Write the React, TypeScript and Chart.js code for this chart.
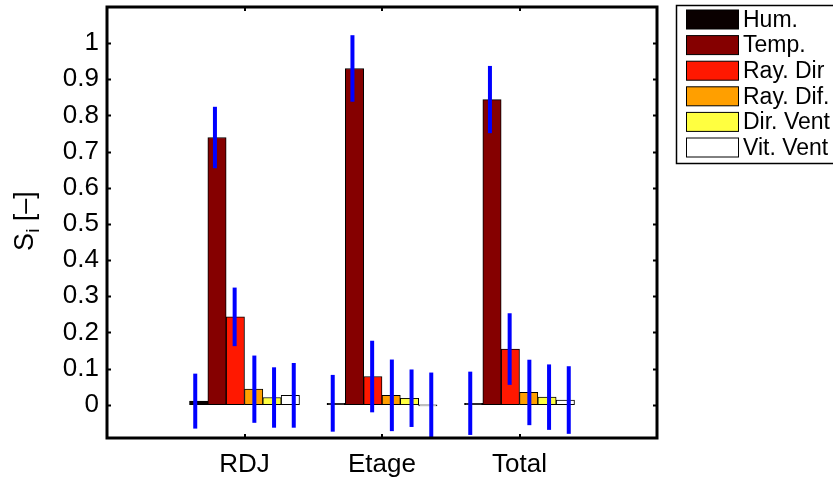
import React, { useEffect, useRef } from "react";
import { Chart, registerables } from "chart.js";

Chart.register(...registerables);

// Groups along the x axis
const categories = ["RDJ", "Etage", "Total"];

// Input factors (one bar series each)
const seriesNames = ["Hum.", "Temp.", "Ray. Dir", "Ray. Dif.", "Dir. Vent", "Vit. Vent"];
const seriesColors = ["#0a0000", "#850000", "#ff1800", "#ff9f00", "#ffff40", "#ffffff"];

// First-order sensitivity indices S_i, per group (RDJ, Etage, Total)
const hum = [0.01, 0.004, 0.004];
const temp = [0.739, 0.93, 0.844];
const rayDir = [0.243, 0.078, 0.154];
const rayDif = [0.043, 0.026, 0.034];
const dirVent = [0.02, 0.018, 0.021];
const vitVent = [0.026, -0.003, 0.013];

// Half-width of the confidence interval of each index
const humErr = [0.076, 0.0785, 0.0875];
const tempErr = [0.085, 0.092, 0.093];
const rayDirErr = [0.081, 0.099, 0.099];
const rayDifErr = [0.093, 0.099, 0.0905];
const dirVentErr = [0.0835, 0.0795, 0.0905];
const vitVentErr = [0.0895, 0.092, 0.0935];

// Y axis
const yMin = -0.092;
const yMax = 1.1;
const yTicks = [0, 0.1, 0.2, 0.3, 0.4, 0.5, 0.6, 0.7, 0.8, 0.9, 1];

const seriesValues = [hum, temp, rayDir, rayDif, dirVent, vitVent];
const seriesErrors = [humErr, tempErr, rayDirErr, rayDifErr, dirVentErr, vitVentErr];

const FONT = "'Liberation Sans', Arial, Helvetica, sans-serif";
const ERR_SPACING = 0.1433; // spacing of the error bars within a group, in x units
const GROUP_WIDTH = 0.8; // share of one x unit taken by a group of bars

const framePlugin = {
  id: "matlabFrame",
  afterDatasetsDraw(chart: any) {
    const { ctx, chartArea } = chart;
    const xs = chart.scales.x;
    const ys = chart.scales.y;
    // error bars
    ctx.save();
    ctx.beginPath();
    ctx.rect(chartArea.left, chartArea.top, chartArea.right - chartArea.left, chartArea.bottom - chartArea.top);
    ctx.clip();
    ctx.strokeStyle = "#0000ff";
    ctx.lineWidth = 4;
    ctx.lineCap = "butt";
    seriesValues.forEach((vals, j) => {
      vals.forEach((v, i) => {
        const e = seriesErrors[j][i];
        const x = xs.getPixelForValue(i + 1 + (j - 2.5) * ERR_SPACING);
        ctx.beginPath();
        ctx.moveTo(x, ys.getPixelForValue(v + e));
        ctx.lineTo(x, ys.getPixelForValue(v - e));
        ctx.stroke();
      });
    });
    ctx.restore();
  },
  afterDraw(chart: any) {
    const { ctx, chartArea } = chart;
    const { left, right, top, bottom } = chartArea;
    const xs = chart.scales.x;
    const ys = chart.scales.y;
    ctx.save();
    ctx.strokeStyle = "#000";
    // inward tick marks on all four sides
    ctx.lineWidth = 2;
    const tl = 4;
    yTicks.forEach((t) => {
      const y = Math.round(ys.getPixelForValue(t)) + 0.5;
      ctx.beginPath();
      ctx.moveTo(left, y);
      ctx.lineTo(left + tl, y);
      ctx.moveTo(right, y);
      ctx.lineTo(right - tl, y);
      ctx.stroke();
    });
    categories.forEach((_, i) => {
      const x = Math.round(xs.getPixelForValue(i + 1));
      ctx.beginPath();
      ctx.moveTo(x, bottom);
      ctx.lineTo(x, bottom - tl);
      ctx.moveTo(x, top);
      ctx.lineTo(x, top + tl);
      ctx.stroke();
    });
    // axes box
    ctx.lineWidth = 3;
    ctx.strokeRect(left, top, right - left, bottom - top);

    // y axis title: S_i [–]
    ctx.save();
    ctx.translate(33, 221);
    ctx.rotate(-Math.PI / 2);
    ctx.fillStyle = "#000";
    ctx.textBaseline = "alphabetic";
    ctx.textAlign = "left";
    const big = `27px ${FONT}`;
    const small = `19px ${FONT}`;
    ctx.font = big;
    const wS = ctx.measureText("S").width;
    const wB = ctx.measureText(" [\u2013]").width;
    ctx.font = small;
    const wI = ctx.measureText("i").width;
    let x0 = -(wS + wI + wB) / 2;
    ctx.font = big;
    ctx.fillText("S", x0, 0);
    x0 += wS;
    ctx.font = small;
    ctx.fillText("i", x0, 6);
    x0 += wI;
    ctx.font = big;
    ctx.fillText(" [\u2013]", x0, 0);
    ctx.restore();

    // legend
    const lx = 676.5;
    const ly = 5.5;
    const rowH = 25.6;
    ctx.fillStyle = "#fff";
    ctx.fillRect(lx, ly, 220, 158);
    ctx.lineWidth = 1.5;
    ctx.strokeStyle = "#000";
    ctx.strokeRect(lx, ly, 220, 158);
    ctx.font = `23px ${FONT}`;
    ctx.textBaseline = "middle";
    ctx.textAlign = "left";
    seriesNames.forEach((name, i) => {
      const cy = 19.5 + i * rowH;
      ctx.fillStyle = seriesColors[i];
      ctx.fillRect(686.5, cy - 9.5, 52, 19);
      ctx.lineWidth = 1;
      ctx.strokeRect(686.5, cy - 9.5, 52, 19);
      ctx.fillStyle = "#000";
      ctx.fillText(name, 743, cy + 1);
    });
    ctx.restore();
  },
};

export default function App() {
  const canvasRef = useRef<HTMLCanvasElement | null>(null);

  useEffect(() => {
    document.body.style.margin = "0";
    const canvas = canvasRef.current;
    if (!canvas) return;
    const plotWidth = 833 - 107 - 176;
    const barThickness = ((plotWidth / 4) * GROUP_WIDTH) / seriesNames.length;
    const chart = new Chart(canvas, {
      type: "bar",
      data: {
        datasets: seriesNames.map((name, j) => ({
          label: name,
          data: seriesValues[j].map((v, i) => ({ x: i + 1, y: v })),
          backgroundColor: seriesColors[j],
          borderColor: "#000",
          borderWidth: 1,
          borderSkipped: false,
          barThickness,
        })),
      },
      options: {
        animation: false,
        responsive: false,
        maintainAspectRatio: false,
        devicePixelRatio: 1,
        layout: { padding: { top: 7, right: 176, left: 0, bottom: 0 } },
        plugins: {
          legend: { display: false },
          tooltip: { enabled: false },
        },
        scales: {
          x: {
            type: "linear",
            offset: false,
            min: 0,
            max: 4,
            afterBuildTicks: (scale: any) => {
              scale.ticks = categories.map((_, i) => ({ value: i + 1 }));
            },
            afterFit: (scale: any) => {
              scale.height = 41;
              scale.paddingLeft = 0;
              scale.paddingRight = 0;
            },
            grid: { display: false, drawTicks: false, offset: false },
            border: { display: false },
            ticks: {
              autoSkip: false,
              maxRotation: 0,
              padding: 11,
              color: "#000",
              font: { family: FONT, size: 26 },
              callback: (v: any) => categories[Number(v) - 1] ?? "",
            },
          },
          y: {
            type: "linear",
            min: yMin,
            max: yMax,
            afterBuildTicks: (scale: any) => {
              scale.ticks = yTicks.map((v) => ({ value: v }));
            },
            afterFit: (scale: any) => {
              scale.width = 107;
              scale.paddingTop = 0;
              scale.paddingBottom = 0;
            },
            grid: { display: false, drawTicks: false },
            border: { display: false },
            ticks: {
              autoSkip: false,
              padding: 8,
              color: "#000",
              font: { family: FONT, size: 26 },
              callback: (v: any) => String(Math.round(Number(v) * 10) / 10),
            },
          },
        },
      },
      plugins: [framePlugin],
    });
    return () => chart.destroy();
  }, []);

  return (
    <div style={{ width: 833, height: 479, background: "#fff" }}>
      <canvas ref={canvasRef} width={833} height={479} />
    </div>
  );
}
